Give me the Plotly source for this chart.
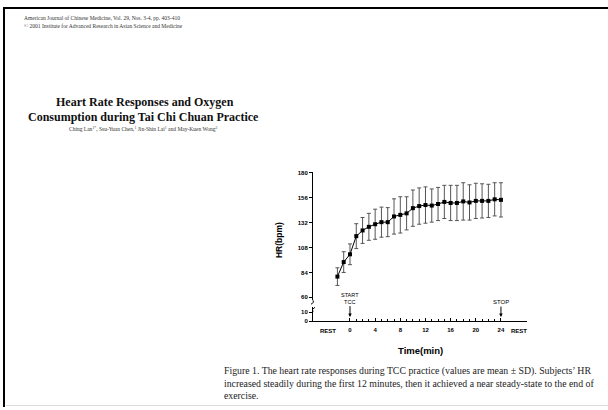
import plotly.graph_objects as go

# ---- data ----
minutes = list(range(-2, 25))
hr_mean = [80, 94, 101.5, 119, 124.5, 128, 130.5, 132.5, 132.5, 138, 139.5, 141, 146,
           148, 149, 148.5, 150, 152, 151, 151, 152.5, 151.5, 153, 153, 153, 154.5, 154]
hr_sd = [8.5, 10, 10, 12, 12.5, 13, 14.5, 14.5, 14, 17, 17.5, 16, 17.5,
         17.5, 17.5, 16, 16, 16, 17, 17, 18, 17, 17, 16.5, 16, 16, 16.5]
x_tickvals = [0, 4, 8, 12, 16, 20, 24]
x_ticktext = ["0", "4", "8", "12", "16", "20", "24"]
y_upper_ticks = [60, 84, 108, 132, 156, 180]
y_lower_ticks = [0, 10]
rest_positions = [-3.5, 26.8]

W, H = 608, 410
def px(x): return x / W
def py(y): return 1 - y / H

SANS = "Liberation Sans, Arial, sans-serif"
SERIF = "Liberation Serif, Times New Roman, serif"

fig = go.Figure()
# empty trace so the lower (0-10) panel of the broken axis exists
fig.add_trace(go.Scatter(x=[], y=[], xaxis="x", yaxis="y2", showlegend=False,
                         hoverinfo="skip"))
fig.add_trace(go.Scatter(
    x=minutes, y=hr_mean, mode="lines+markers",
    line=dict(color="black", width=1),
    marker=dict(symbol="square", size=4, color="black"),
    error_y=dict(type="data", array=hr_sd, visible=True, color="#555555",
                 thickness=1, width=2),
    xaxis="x", yaxis="y", showlegend=False, cliponaxis=False,
))

tick_font = dict(family=SANS, size=6, color="black", weight="bold")
fig.update_layout(
    width=W, height=H, margin=dict(l=0, r=0, t=0, b=0),
    paper_bgcolor="white", plot_bgcolor="rgba(0,0,0,0)",
    xaxis=dict(domain=[px(313), px(527)], range=[-5.88, 28.14], anchor="y2", side="bottom",
               showline=True, linecolor="black", linewidth=1,
               tickmode="array", tickvals=x_tickvals, ticktext=x_ticktext,
               ticks="inside", ticklen=3, tickcolor="black", tickwidth=1,
               ticklabelstandoff=3,
               minor=dict(tickmode="array", tickvals=list(range(0, 25)),
                          ticks="inside", ticklen=2, tickcolor="black"),
               tickfont=tick_font, showgrid=False, zeroline=False),
    yaxis=dict(domain=[py(302), py(172)], range=[57.14, 180.95], anchor="x",
               showline=True, linecolor="black", linewidth=1,
               tickmode="array", tickvals=y_upper_ticks,
               ticks="outside", ticklen=3, tickcolor="black",
               tickfont=tick_font, showgrid=False, zeroline=False),
    yaxis2=dict(domain=[py(323), py(309)], range=[0, 15.6], anchor="x",
                showline=True, linecolor="black", linewidth=1,
                tickmode="array", tickvals=y_lower_ticks,
                ticks="outside", ticklen=3, tickcolor="black",
                tickfont=tick_font, showgrid=False, zeroline=False),
)

ann = []
# REST labels
for xr in rest_positions:
    ann.append(dict(x=xr, xref="x", y=py(333.5), yref="paper", text="<b>REST</b>",
                    xanchor="center", yanchor="middle",
                    showarrow=False, font=dict(family=SANS, size=6, color="black")))
# axis titles
ann.append(dict(x=px(420), y=py(353), xref="paper", yref="paper", text="<b>Time(min)</b>",
                xanchor="center", yanchor="middle",
                showarrow=False, font=dict(family=SANS, size=9.5, color="black")))
ann.append(dict(x=px(279), y=py(241), xref="paper", yref="paper", text="<b>HR(bpm)</b>",
                xanchor="center", yanchor="middle",
                textangle=-90, showarrow=False, font=dict(family=SANS, size=8.5, color="black")))
# start / stop arrows
ann.append(dict(x=0, xref="x", y=py(319), yref="paper", text="START<br>TCC",
                showarrow=True, ax=0, ay=-19, arrowhead=2, arrowsize=0.7, arrowwidth=1,
                arrowcolor="black", font=dict(family=SANS, size=5.5, color="black")))
ann.append(dict(x=24, xref="x", y=py(319), yref="paper", text="STOP",
                showarrow=True, ax=0, ay=-15, arrowhead=2, arrowsize=0.7, arrowwidth=1,
                arrowcolor="black", font=dict(family=SANS, size=6, color="black")))
# page header
ann.append(dict(x=px(22), y=py(16), xref="paper", yref="paper", xanchor="left", yanchor="middle",
                text="American Journal of Chinese Medicine, Vol. 29, Nos. 3-4, pp. 403-410",
                showarrow=False, font=dict(family=SERIF, size=5.5, color="#333")))
ann.append(dict(x=px(22), y=py(24), xref="paper", yref="paper", xanchor="left", yanchor="middle",
                text="\u00a9 2001 Institute for Advanced Research in Asian Science and Medicine",
                showarrow=False, font=dict(family=SERIF, size=5.5, color="#333")))
# title
ann.append(dict(x=px(145), y=py(101), xref="paper", yref="paper", xanchor="center", yanchor="middle",
                text="<b>Heart Rate Responses and Oxygen</b>",
                showarrow=False, font=dict(family=SERIF, size=12, color="#111")))
ann.append(dict(x=px(143), y=py(116), xref="paper", yref="paper", xanchor="center", yanchor="middle",
                text="<b>Consumption during Tai Chi Chuan Practice</b>",
                showarrow=False, font=dict(family=SERIF, size=12, color="#111")))
ann.append(dict(x=px(143), y=py(128.5), xref="paper", yref="paper", xanchor="center", yanchor="middle",
                text="Ching Lan<sup>1*</sup>, Ssu-Yuan Chen,<sup>1</sup> Jin-Shin Lai<sup>1</sup> and May-Kuen Wong<sup>2</sup>",
                showarrow=False, font=dict(family=SERIF, size=5.5, color="#333")))
# caption
cap = [
    "Figure 1. The heart rate responses during TCC practice (values are mean \u00b1 SD). Subjects\u2019 HR",
    "increased steadily during the first 12 minutes, then it achieved a near steady-state to the end of",
    "exercise.",
]
for i, line in enumerate(cap):
    ann.append(dict(x=px(222), y=py(374 + 12 * i), xref="paper", yref="paper",
                    xanchor="left", yanchor="middle",
                    text=line, showarrow=False, font=dict(family=SERIF, size=9.8, color="#222")))
fig.update_layout(annotations=ann)

shapes = [
    # page frame
    dict(type="line", xref="paper", yref="paper", x0=px(3), x1=1, y0=py(6), y1=py(6),
         line=dict(color="black", width=2)),
    dict(type="line", xref="paper", yref="paper", x0=px(4), x1=px(4), y0=py(6), y1=0,
         line=dict(color="black", width=2)),
    dict(type="line", xref="paper", yref="paper", x0=px(6), x1=1, y0=py(408.5), y1=py(408.5),
         line=dict(color="#dddddd", width=1)),
    # axis break marks
    dict(type="path", xref="paper", yref="paper",
         path=f"M {px(313)},{py(302)} Q {px(315)},{py(304)} {px(311)},{py(306)}",
         line=dict(color="black", width=1)),
    dict(type="path", xref="paper", yref="paper",
         path=f"M {px(315)},{py(309)} Q {px(311)},{py(311)} {px(313)},{py(314)}",
         line=dict(color="black", width=1)),
]
fig.update_layout(shapes=shapes)

fig.write_html("out.html", config={"displayModeBar": False},
               post_script="document.body.style.margin='0';document.body.style.overflow='hidden';")
